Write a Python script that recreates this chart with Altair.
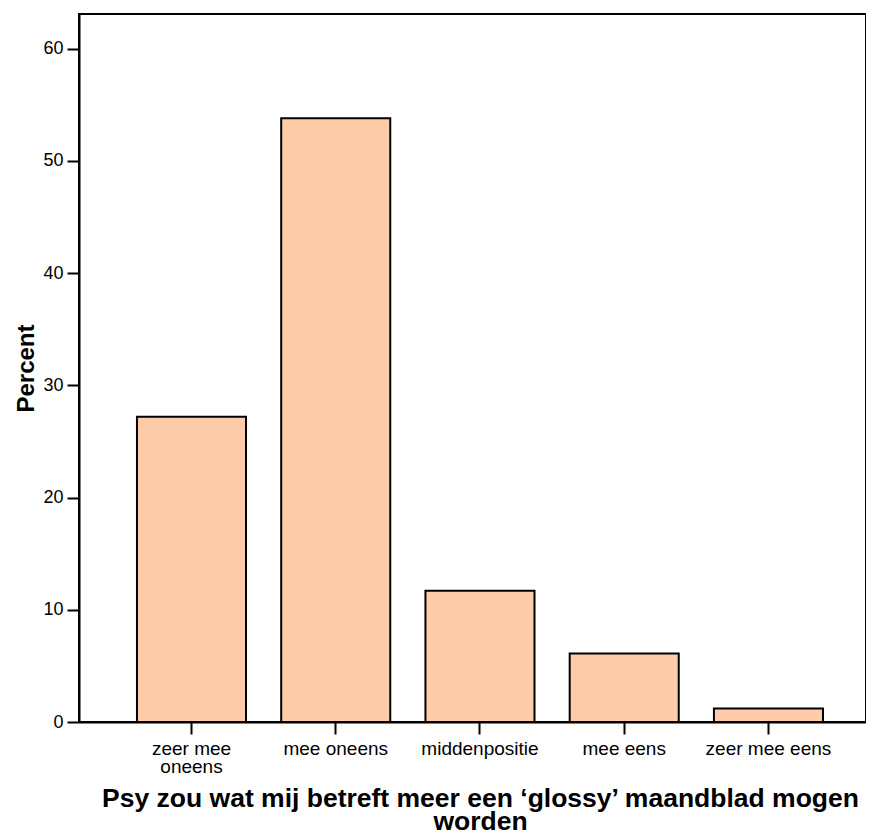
import altair as alt
import pandas as pd

categories = ["zeer mee oneens", "mee oneens", "middenpositie", "mee eens", "zeer mee eens"]
percents = [27.2, 53.8, 11.7, 6.1, 1.2]
y_ticks = [0, 10, 20, 30, 40, 50, 60]
x_title = ["Psy zou wat mij betreft meer een \u2018glossy\u2019 maandblad mogen", "worden"]
y_title = "Percent"

df = pd.DataFrame({"cat": categories, "pct": percents})

FONT = "Liberation Sans"

chart = alt.Chart(df).mark_bar(
    fill="#FFCCAA", stroke="black", strokeWidth=2
).encode(
    x=alt.X(
        "cat:N",
        sort=categories,
        scale=alt.Scale(paddingInner=0.244, paddingOuter=0.35, align=0.574),
        axis=alt.Axis(
            title=x_title,
            labelAngle=0,
            labelExpr="datum.label == 'zeer mee oneens' ? ['zeer mee', 'oneens'] : datum.label",
            labelFont=FONT, labelFontSize=19, labelColor="black", labelLineHeight=18,
            labelPadding=5,
            tickSize=12, tickWidth=2, tickColor="black",
            domainColor="black", domainWidth=2,
            titleFont=FONT, titleFontSize=26.5, titleFontWeight="bold", titleColor="black",
            titleX=401, titleY=84, titleAlign="center", titleBaseline="alphabetic",
            titleLineHeight=23,
            grid=False,
        ),
    ),
    y=alt.Y(
        "pct:Q",
        scale=alt.Scale(domain=[0, 63.1], nice=False, zero=True),
        axis=alt.Axis(
            title=y_title,
            values=y_ticks,
            labelFont=FONT, labelFontSize=18, labelColor="black", labelPadding=4,
            tickSize=12, tickWidth=2, tickColor="black",
            domainColor="black", domainWidth=2,
            titleFont=FONT, titleFontSize=24, titleFontWeight="bold", titleColor="black",
            titleX=-46, titleY=354, titleAngle=270, titleAlign="center",
            titleBaseline="alphabetic",
            grid=False,
        ),
    ),
).properties(
    width=787,
    height=708,
    autosize="none",
    padding={"left": 71, "top": 6, "right": 0, "bottom": 114},
).configure_view(stroke="black", strokeWidth=2)

chart.save("out.html", embed_options={"renderer": "svg", "actions": False})
